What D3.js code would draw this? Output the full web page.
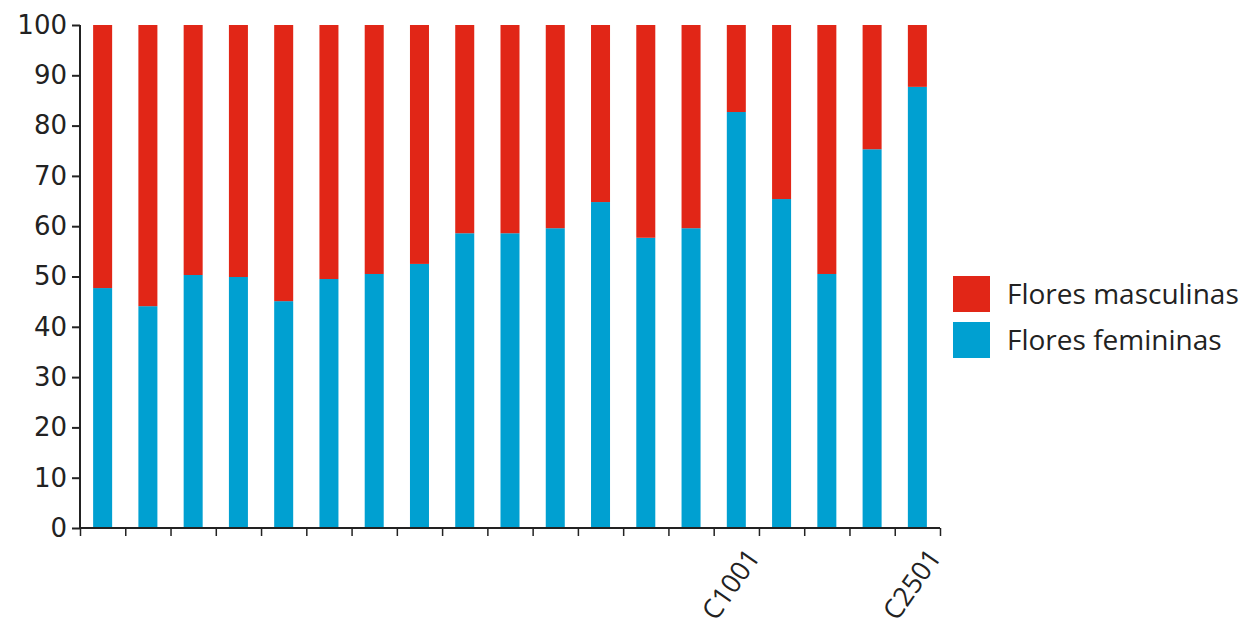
<!DOCTYPE html>
<html><head><meta charset="utf-8">
<script src="https://cdn.jsdelivr.net/npm/d3@7"></script>
<style>
html,body{margin:0;padding:0;background:#fff;}
svg{display:block;}
</style></head>
<body><svg id="c" width="1253" height="630"></svg>
<script>
const categories = ["1","2","3","4","5","6","7","8","9","10","11","12","13","14","C1001","16","17","18","C2501"];
const tickLabels = ["","","","","","","","","","","","","","","C1001","","","","C2501"];
const femeninas = [47.7,44.1,50.3,49.9,45.1,49.5,50.5,52.5,58.6,58.6,59.6,64.8,57.7,59.6,82.7,65.4,50.5,75.3,87.7];
const masculinas = femeninas.map(v => 100 - v);
const seriesNames = ["Flores masculinas","Flores femininas"];
const seriesColors = ["#e12617","#00a0d1"];
const yTicks = [0,10,20,30,40,50,60,70,80,90,100];

const svg = d3.select("#c");
const mLeft = 80, mRight = 940, mTop = 25, mBottom = 528;
const x = d3.scaleBand().domain(categories).range([mLeft, mRight]).paddingInner(0.58).paddingOuter(0.29);
const xEdge = d3.scaleLinear().domain([0, categories.length]).range([mLeft, mRight]);
const y = d3.scaleLinear().domain([0, 100]).range([mBottom, mTop]);

const rows = categories.map((c, i) => ({cat: c, fem: femeninas[i], masc: masculinas[i]}));
const stack = d3.stack().keys(["fem","masc"])(rows);
const colorByKey = {fem: seriesColors[1], masc: seriesColors[0]};

svg.append("g").selectAll("g").data(stack).join("g")
  .attr("fill", d => colorByKey[d.key])
  .selectAll("rect").data(d => d).join("rect")
  .attr("x", d => x(d.data.cat))
  .attr("width", x.bandwidth())
  .attr("y", d => y(d[1]))
  .attr("height", d => y(d[0]) - y(d[1]));

// y axis
const ya = svg.append("g").attr("transform", `translate(${mLeft},0)`)
  .call(d3.axisLeft(y).tickValues(yTicks).tickSize(8).tickPadding(5));
ya.select(".domain").attr("stroke", "#222").attr("stroke-width", 2).attr("d", `M0,${mTop}V${mBottom}`);
ya.selectAll(".tick line").attr("stroke", "#222").attr("stroke-width", 2);
ya.selectAll(".tick text").attr("font-family", "DejaVu Sans, sans-serif").attr("font-size", 26).attr("fill", "#222");

// x axis
const xa = svg.append("g").attr("transform", `translate(0,${mBottom})`)
  .call(d3.axisBottom(xEdge).tickValues(d3.range(categories.length + 1)).tickSize(8)
    .tickFormat(i => i > 0 ? tickLabels[i - 1] : ""));
xa.select(".domain").attr("stroke", "#222").attr("stroke-width", 2).attr("d", `M${mLeft},0H${mRight}`);
xa.selectAll(".tick line").attr("stroke", "#222").attr("stroke-width", 1.5);
xa.selectAll(".tick text")
  .attr("font-family", "Open Sans, sans-serif").attr("font-size", 27).attr("fill", "#222")
  .attr("text-anchor", "end")
  .attr("transform", "translate(-6,24) rotate(-55)")
  .attr("x", 0).attr("y", 0).attr("dy", "0.35em");

// legend
const lg = svg.append("g").attr("transform", "translate(953,276)");
seriesNames.forEach((n, i) => {
  const g = lg.append("g").attr("transform", `translate(0,${i * 46})`);
  g.append("rect").attr("width", 37).attr("height", 36).attr("fill", seriesColors[i]);
  g.append("text").attr("x", 54).attr("y", 18).attr("dy", "0.35em")
    .attr("font-family", "Open Sans, sans-serif").attr("font-size", 28).attr("fill", "#222").text(n);
});
</script></body></html>
